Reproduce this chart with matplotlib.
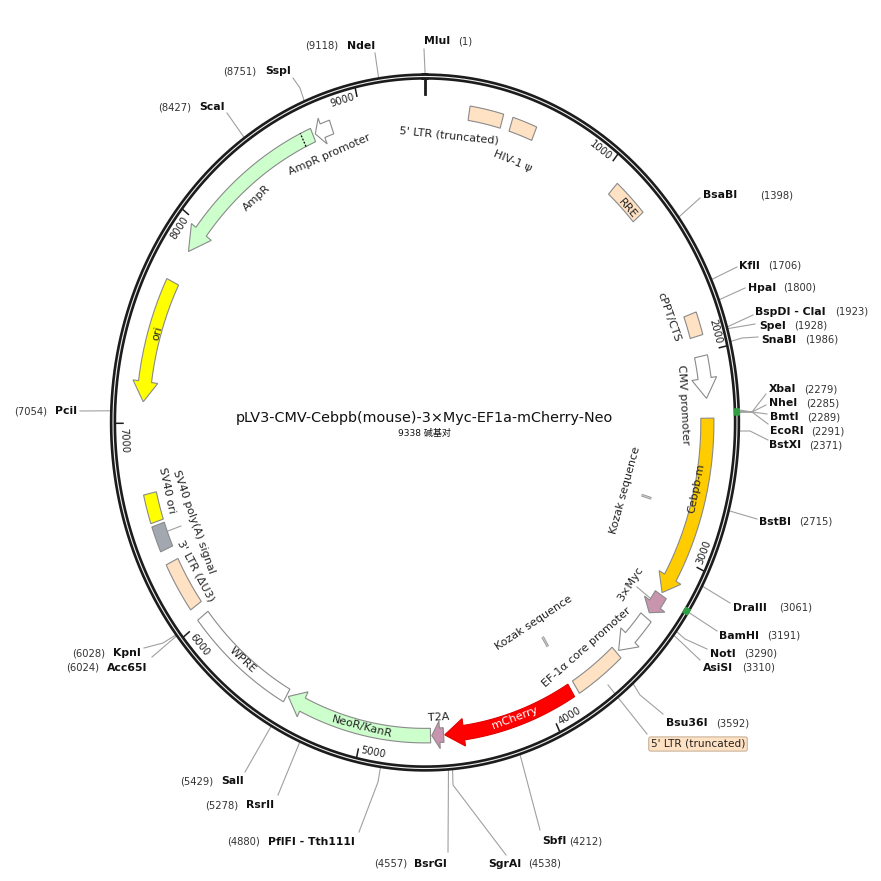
import numpy as np
import matplotlib
matplotlib.use('Agg')
import matplotlib.pyplot as plt

# plasmid
plasmid_name = 'pLV3-CMV-Cebpb(mouse)-3×Myc-EF1a-mCherry-Neo'
plasmid_size = 9338
ruler_ticks = [1000, 2000, 3000, 4000, 5000, 6000, 7000, 8000, 9000]

# features: start, end, start of the arrow head (None = plain box)
feature_start = [233, 460, 1082, 1811, 2018, 2314, 3200, 3333, 3561, 3860, 4571, 4640, 5430, 6075, 6386, 6526, 7696, 8732, 8837]
feature_end = [410, 590, 1271, 1921, 2220, 3188, 3305, 3546, 3831, 4565, 4633, 5420, 6015, 6319, 6510, 6664, 7102, 7862, 8745]
feature_head = [None, None, None, None, 2125, 3105, 3255, 3460, None, 4464, 4592, 5336, None, None, None, None, 7198, 7977, 8786]
feature_color = ['#FFE2C4', '#FFE2C4', '#FFE2C4', '#FFE2C4', 'white', '#FFCC00', '#C994AE', 'white', '#FFE2C4', '#FF0000',
                 '#C994AE', '#CCFFCC', 'white', '#FFE2C4', '#A3A8B0', '#FFFF00', '#FFFF00', '#CCFFCC', 'white']

# labels that follow the circle: text, centre on the map, radius
arc_labels = ["5' LTR (truncated)", 'HIV-1 ψ', 'AmpR promoter', 'AmpR', 'RRE', 'cPPT/CTS', 'CMV promoter', 'Cebpb-m',
              'Kozak sequence', 'Kozak sequence', '3×Myc', 'EF-1α core promoter', 'mCherry', 'T2A', 'NeoR/KanR',
              'WPRE', "3' LTR (ΔU3)", 'SV40 ori', 'SV40 poly(A) signal', 'ori']
arc_pos = [137, 530, 8778, 8305, 1203, 1782, 2241, 2656, 2775, 3866, 3253, 3668, 4187, 4596, 5006, 5718, 6215, 6658, 6454, 7437]
arc_rad = [.832, .805, .832, .843, .896, .84, .828, .89, .67, .677, .807, .83, .902, .854, .902, .903, .85, .85, .795, .895]

# restriction sites
site_names = ['MluI', 'BsaBI', 'KflI', 'HpaI', 'BspDI - ClaI', 'SpeI', 'SnaBI', 'XbaI', 'NheI', 'BmtI', 'EcoRI', 'BstXI',
              'BstBI', 'DraIII', 'BamHI', 'NotI', 'AsiSI', 'Bsu36I', 'SbfI', 'SgrAI', 'BsrGI', 'PflFI - Tth111I', 'RsrII',
              'SalI', 'Acc65I', 'KpnI', 'PciI', 'ScaI', 'SspI', 'NdeI']
site_pos = [1, 1398, 1706, 1800, 1923, 1928, 1986, 2279, 2285, 2289, 2291, 2371, 2715, 3061, 3191, 3290, 3310, 3592, 4212,
            4538, 4557, 4880, 5278, 5429, 6024, 6028, 7054, 8427, 8751, 9118]
# pixel places of name and number
name_x = [424, 703, 739, 748, 755, 759, 761, 769, 769, 770, 770, 769, 759, 733, 719, 710, 703, 666, 542, 488, 414, 268, 246,
          221, 107, 113, 55, 199, 265, 347]
num_x = [458, 760, 768, 783, 835, 794, 805, 804, 806, 807, 811, 809, 799, 779, 767, 744, 742, 716, 569, 528, 374, 227, 205,
         180, 66, 72, 14, 158, 223, 305]
label_y = [41, 195, 266, 288, 312, 326, 340, 389, 403, 417, 431, 445, 522, 608, 636, 654, 668, 723, 841, 864, 864, 842, 805,
           781, 668, 653, 411, 107, 71, 46]
# leader lines, ring point comes from site_pos
leader_pts = [[(424, 49)], [(700, 198)], [(737, 267)], [(745, 288)], [(753, 315)], [(755, 324)], [(742, 338), (758, 337)],
              [(752, 412), (766, 394)], [(752, 412), (766, 405)], [(752, 412), (767, 414)], [(752, 412), (768, 424)],
              [(750, 431), (768, 440)], [(757, 519)], [(730, 603)], [(717, 631)], [(685, 639), (707, 649)], [(700, 660)],
              [(640, 695), (663, 714)], [(540, 830)], [(453, 785), (506, 855)], [(448, 852)], [(378, 782), (359, 832)],
              [(278, 795)], [(245, 772)], [(152, 657)], [(163, 643), (144, 648)], [(80, 411)], [(227, 113)],
              [(300, 88), (293, 78)], [(375, 53)]]

cx, cy, rx, ry = 425, 422.5, 312, 346


def place(pos, r):
    t = np.asarray(pos) / plasmid_size * 2 * np.pi
    return cx + r * rx * np.sin(t), cy - r * ry * np.cos(t)


def arc_xy(a, b, r):
    p = np.linspace(a, b, 40)
    x, y = place(p, r)
    return list(x), list(y)


def draw_feature(ax, start, end, head, color, r1=.884, r2=.926):
    if head is None:
        xa, ya = arc_xy(start, end, r1)
        xb, yb = arc_xy(end, start, r2)
    else:
        xa, ya = arc_xy(start, head, r1)
        xb, yb = arc_xy(head, start, r2)
        h1, h2 = place(head, r1 - .02), place(head, r2 + .018)
        tip = place(end, (r1 + r2) / 2)
        xa += [h1[0], tip[0], h2[0]]
        ya += [h1[1], tip[1], h2[1]]
    edge = '#8a8a8a' if color != '#FF0000' else '#E00000'
    ax.fill(xa + xb, ya + yb, facecolor=color, edgecolor=edge, linewidth=0.8, zorder=3)


def arc_text(ax, s, pos, r, size=8, color='#222222'):
    # whole label, turned along the circle; bottom half reads with tops to the centre
    t = pos / plasmid_size * 2 * np.pi
    dx, dy = rx * np.cos(t), ry * np.sin(t)
    if np.cos(t) < 0:
        dx, dy = -dx, -dy
    rot = -np.degrees(np.arctan2(dy, dx))
    x, y = place(pos, r)
    ax.text(x, y, s, rotation=rot, rotation_mode='anchor', ha='center', va='center', fontsize=size, color=color, zorder=6)


fig = plt.figure(figsize=(8.81, 8.81), dpi=100)
ax = fig.add_axes([0, 0, 1, 1])
ax.set_xlim(0, 881)
ax.set_ylim(881, 0)
ax.axis('off')

# leaders under the ring
for i in range(len(site_names)):
    x0, y0 = place(site_pos[i], 1.0)
    pts = [(x0, y0)] + leader_pts[i]
    ax.plot([p[0] for p in pts], [p[1] for p in pts], color='#a0a0a0', lw=0.8, zorder=1)
    ax.text(name_x[i], label_y[i], site_names[i], fontsize=7.8, fontweight='bold', va='center', ha='left', color='#111111')
    ax.text(num_x[i], label_y[i], '(%d)' % site_pos[i], fontsize=7.2, va='center', ha='left', color='#333333')

ax.plot([608, 620, 647], [685, 700, 734], color='#a0a0a0', lw=0.8, zorder=1)
ax.text(698, 744, "5' LTR (truncated)", fontsize=7.6, ha='center', va='center', color='#222222', zorder=6,
        bbox=dict(boxstyle='round,pad=0.2', fc='#FFE2C4', ec='#C8B49C', lw=0.8))
ax.plot([168, 181], [531, 526], color='#a0a0a0', lw=0.8, zorder=1)
ax.plot([637, 650], [587, 598], color='#a0a0a0', lw=0.8, zorder=1)

# ring
full = np.linspace(0, plasmid_size, 500)
ring_x, ring_y = place(full, 1.0)
ax.plot(ring_x, ring_y, color='#1c1c1c', lw=4.6, zorder=2)
ax.plot(ring_x, ring_y, color='#eeeeee', lw=0.8, zorder=2.1)
for p in [2289, 3191]:
    gx, gy = arc_xy(p - 16, p + 16, 1.0)
    ax.plot(gx, gy, color='#2EA043', lw=4.6, solid_capstyle='butt', zorder=2.2)

# ruler
for tick in ruler_ticks:
    a, b = place(tick, .968), place(tick, 1.0)
    ax.plot([a[0], b[0]], [a[1], b[1]], color='#1c1c1c', lw=1.1, zorder=2)
    arc_text(ax, str(tick), tick - 75, .968, size=7.2)
a, b = place(0, .95), place(0, 1.0)
ax.plot([a[0], b[0]], [a[1], b[1]], color='#1c1c1c', lw=2, zorder=2)

# features
for s, e, h, c in zip(feature_start, feature_end, feature_head, feature_color):
    draw_feature(ax, s, e, h, c)

# dotted mark in AmpR
a, b = place(8675, .884), place(8675, .926)
ax.plot([a[0], b[0]], [a[1], b[1]], color='black', lw=0.9, ls=(0, (1.5, 1.2)), zorder=4)

# small Kozak marks
for p in [2771, 3857]:
    a, b = place(p, .725), place(p, .758)
    ax.plot([a[0], b[0]], [a[1], b[1]], color='#9a9a9a', lw=2, zorder=3, solid_capstyle='butt')
    ax.plot([a[0], b[0]], [a[1], b[1]], color='#dddddd', lw=0.5, zorder=3.1, solid_capstyle='butt')

for s, p, r in zip(arc_labels, arc_pos, arc_rad):
    arc_text(ax, s, p, r, color='white' if s == 'mCherry' else '#222222')

ax.text(424, 418, plasmid_name, fontsize=10.4, ha='center', va='center', color='#111111')
ax.text(424, 433, '%d 碱基对' % plasmid_size, fontsize=6.5, ha='center', va='center', color='#111111',
        family=['DejaVu Sans', 'Noto Sans CJK SC'])

fig.savefig('out.png', dpi=100)
